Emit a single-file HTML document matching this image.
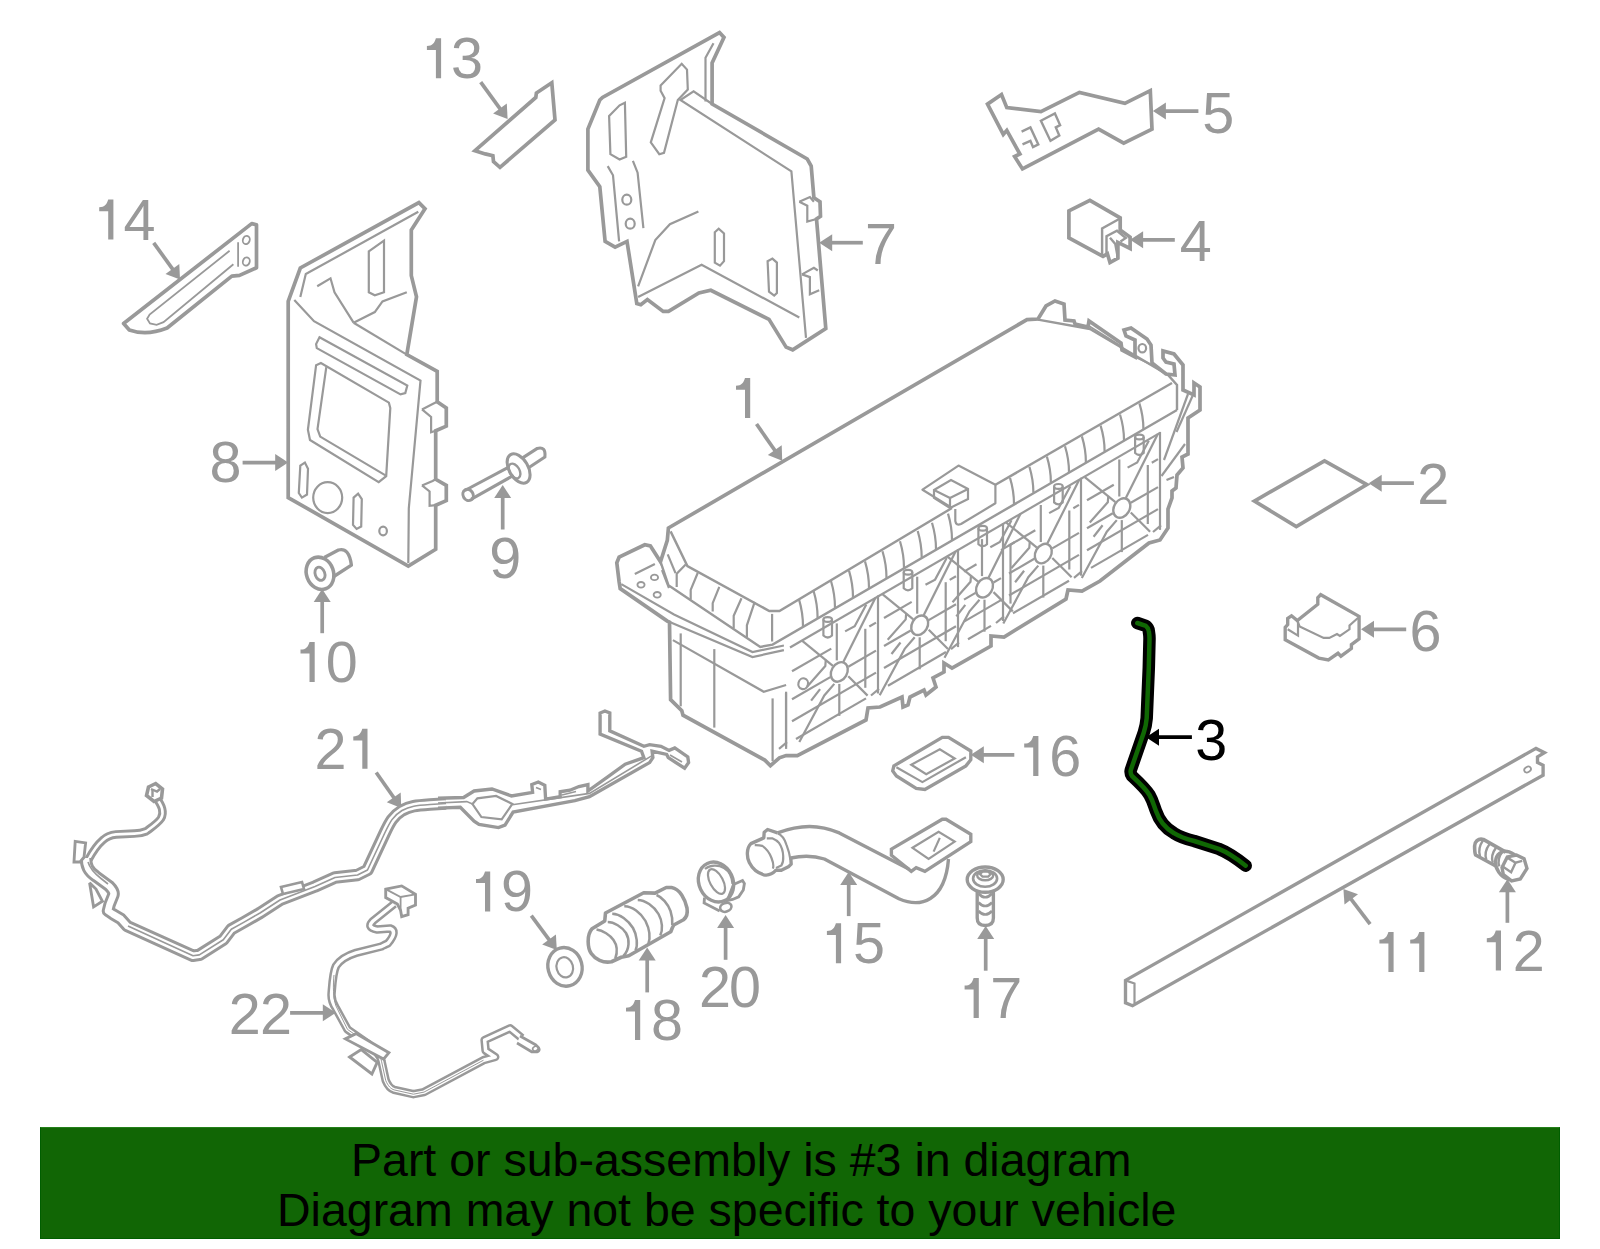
<!DOCTYPE html>
<html><head><meta charset="utf-8"><style>
html,body{margin:0;padding:0;background:#fff;}
body{width:1600px;height:1249px;position:relative;overflow:hidden;font-family:"Liberation Sans",sans-serif;}
svg{position:absolute;left:0;top:0;}
svg text{font-family:"Liberation Sans",sans-serif;}
.banner{position:absolute;left:40px;top:1127px;width:1518px;height:110px;background:#116605;border:1px solid #005e00;border-top-color:#24801a;}
.t{position:absolute;white-space:nowrap;color:#000;font-size:46.5px;line-height:46px;}
</style></head><body>
<svg width="1600" height="1249" viewBox="0 0 1600 1249">
<path d="M435.9,38.3 H441.1 V78.3 H435.9 V49.9 H426.9 V46.0 C432.4,46.0 434.7,42.8 435.9,38.3 Z" fill="#999"/>
<text x="451.1" y="78.3" fill="#999" font-size="57.5">3</text>
<path d="M108.2,199.6 H113.4 V239.6 H108.2 V211.2 H99.2 V207.3 C104.7,207.3 107.0,204.1 108.2,199.6 Z" fill="#999"/>
<text x="123.5" y="239.6" fill="#999" font-size="57.5">4</text>
<text x="865.1" y="263.9" fill="#999" font-size="57.5">7</text>
<text x="209.6" y="482.4" fill="#999" font-size="57.5">8</text>
<text x="489.3" y="578.1" fill="#999" font-size="57.5">9</text>
<path d="M309.5,641.9 H314.7 V681.9 H309.5 V653.5 H300.5 V649.6 C306.0,649.6 308.3,646.4 309.5,641.9 Z" fill="#999"/>
<text x="325.8" y="681.9" fill="#999" font-size="57.5">0</text>
<text x="1202.2" y="133.0" fill="#999" font-size="57.5">5</text>
<text x="1179.8" y="260.8" fill="#999" font-size="57.5">4</text>
<text x="1417.3" y="504.4" fill="#999" font-size="57.5">2</text>
<text x="1409.5" y="651.4" fill="#999" font-size="57.5">6</text>
<path d="M745.0,378.1 H750.2 V418.1 H745.0 V389.7 H736.0 V385.8 C741.5,385.8 743.8,382.6 745.0,378.1 Z" fill="#999"/>
<path d="M1033.2,735.9 H1038.4 V775.9 H1033.2 V747.5 H1024.2 V743.6 C1029.7,743.6 1032.0,740.4 1033.2,735.9 Z" fill="#999"/>
<text x="1049.2" y="775.9" fill="#999" font-size="57.5">6</text>
<text x="1195.2" y="760.3" fill="#000" font-size="57.5">3</text>
<text x="314.6" y="768.8" fill="#999" font-size="57.5">2</text>
<path d="M362.3,728.8 H367.5 V768.8 H362.3 V740.4 H353.3 V736.5 C358.8,736.5 361.1,733.2 362.3,728.8 Z" fill="#999"/>
<text x="228.8" y="1033.6" fill="#999" font-size="57.5">2</text>
<text x="260.1" y="1033.6" fill="#999" font-size="57.5">2</text>
<path d="M485.0,871.4 H490.2 V911.4 H485.0 V883.0 H476.0 V879.1 C481.5,879.1 483.8,875.9 485.0,871.4 Z" fill="#999"/>
<text x="500.9" y="911.4" fill="#999" font-size="57.5">9</text>
<path d="M635.0,1000.0 H640.2 V1040.0 H635.0 V1011.6 H626.0 V1007.7 C631.5,1007.7 633.8,1004.5 635.0,1000.0 Z" fill="#999"/>
<text x="651.0" y="1040.0" fill="#999" font-size="57.5">8</text>
<text x="698.9" y="1007.4" fill="#999" font-size="57.5">2</text>
<text x="729.1" y="1007.4" fill="#999" font-size="57.5">0</text>
<path d="M835.9,923.3 H841.1 V963.3 H835.9 V934.9 H826.9 V931.0 C832.4,931.0 834.7,927.8 835.9,923.3 Z" fill="#999"/>
<text x="853.1" y="963.3" fill="#999" font-size="57.5">5</text>
<path d="M973.6,977.9 H978.8 V1017.9 H973.6 V989.5 H964.6 V985.6 C970.1,985.6 972.4,982.4 973.6,977.9 Z" fill="#999"/>
<text x="990.3" y="1017.9" fill="#999" font-size="57.5">7</text>
<path d="M1388.4,932.0 H1393.6 V972.0 H1388.4 V943.6 H1379.4 V939.7 C1384.9,939.7 1387.2,936.5 1388.4,932.0 Z" fill="#999"/>
<path d="M1419.2,932.0 H1424.4 V972.0 H1419.2 V943.6 H1410.2 V939.7 C1415.7,939.7 1418.0,936.5 1419.2,932.0 Z" fill="#999"/>
<path d="M1495.8,930.6 H1501.0 V970.6 H1495.8 V942.2 H1486.8 V938.3 C1492.3,938.3 1494.6,935.1 1495.8,930.6 Z" fill="#999"/>
<text x="1512.7" y="970.6" fill="#999" font-size="57.5">2</text>
<line x1="480.7" y1="82.1" x2="500.5" y2="109.3" stroke="#999" stroke-width="3.70"/>
<polygon points="507.6,119.0 493.1,113.5 506.8,103.5" fill="#999"/>
<line x1="153.7" y1="242.8" x2="173.0" y2="269.7" stroke="#999" stroke-width="3.70"/>
<polygon points="180.0,279.5 165.5,273.9 179.3,264.0" fill="#999"/>
<line x1="862.8" y1="242.7" x2="831.2" y2="242.7" stroke="#999" stroke-width="3.70"/>
<polygon points="819.2,242.7 832.2,234.2 832.2,251.2" fill="#999"/>
<line x1="242.6" y1="462.6" x2="276.2" y2="462.6" stroke="#999" stroke-width="3.70"/>
<polygon points="288.2,462.6 275.2,471.1 275.2,454.1" fill="#999"/>
<line x1="502.7" y1="529.5" x2="502.7" y2="497.1" stroke="#999" stroke-width="3.70"/>
<polygon points="502.7,485.1 511.2,498.1 494.2,498.1" fill="#999"/>
<line x1="322.2" y1="633.2" x2="322.2" y2="600.9" stroke="#999" stroke-width="3.70"/>
<polygon points="322.2,588.9 330.7,601.9 313.7,601.9" fill="#999"/>
<line x1="1198.4" y1="111.1" x2="1164.9" y2="111.1" stroke="#999" stroke-width="3.70"/>
<polygon points="1152.9,111.1 1165.9,102.6 1165.9,119.6" fill="#999"/>
<line x1="1174.8" y1="239.8" x2="1142.1" y2="239.8" stroke="#999" stroke-width="3.70"/>
<polygon points="1130.1,239.8 1143.1,231.3 1143.1,248.3" fill="#999"/>
<line x1="1413.9" y1="483.2" x2="1380.7" y2="483.2" stroke="#999" stroke-width="3.70"/>
<polygon points="1368.7,483.2 1381.7,474.7 1381.7,491.7" fill="#999"/>
<line x1="1406.2" y1="629.3" x2="1373.0" y2="629.3" stroke="#999" stroke-width="3.70"/>
<polygon points="1361.0,629.3 1374.0,620.8 1374.0,637.8" fill="#999"/>
<line x1="756.5" y1="424.0" x2="775.3" y2="451.0" stroke="#999" stroke-width="3.70"/>
<polygon points="782.2,460.8 767.8,455.0 781.7,445.3" fill="#999"/>
<line x1="1014.3" y1="754.8" x2="982.8" y2="754.8" stroke="#999" stroke-width="3.70"/>
<polygon points="970.8,754.8 983.8,746.3 983.8,763.3" fill="#999"/>
<line x1="1191.9" y1="737.2" x2="1158.0" y2="737.2" stroke="#000" stroke-width="3.70"/>
<polygon points="1146.0,737.2 1159.0,728.7 1159.0,745.7" fill="#000"/>
<line x1="376.2" y1="772.5" x2="394.3" y2="798.2" stroke="#999" stroke-width="3.70"/>
<polygon points="401.2,808.0 386.8,802.3 400.7,792.5" fill="#999"/>
<line x1="290.1" y1="1012.8" x2="323.8" y2="1012.8" stroke="#999" stroke-width="3.70"/>
<polygon points="335.8,1012.8 322.8,1021.3 322.8,1004.3" fill="#999"/>
<line x1="531.3" y1="915.7" x2="549.6" y2="940.4" stroke="#999" stroke-width="3.70"/>
<polygon points="556.8,950.0 542.2,944.6 555.9,934.5" fill="#999"/>
<line x1="647.2" y1="992.4" x2="647.2" y2="959.5" stroke="#999" stroke-width="3.70"/>
<polygon points="647.2,947.5 655.7,960.5 638.7,960.5" fill="#999"/>
<line x1="725.6" y1="959.8" x2="725.6" y2="926.9" stroke="#999" stroke-width="3.70"/>
<polygon points="725.6,914.9 734.1,927.9 717.1,927.9" fill="#999"/>
<line x1="848.7" y1="916.1" x2="848.7" y2="883.9" stroke="#999" stroke-width="3.70"/>
<polygon points="848.7,871.9 857.2,884.9 840.2,884.9" fill="#999"/>
<line x1="985.7" y1="970.7" x2="985.7" y2="938.0" stroke="#999" stroke-width="3.70"/>
<polygon points="985.7,926.0 994.2,939.0 977.2,939.0" fill="#999"/>
<line x1="1370.1" y1="924.2" x2="1350.7" y2="898.6" stroke="#999" stroke-width="3.70"/>
<polygon points="1343.4,889.0 1358.0,894.2 1344.5,904.5" fill="#999"/>
<line x1="1507.4" y1="922.8" x2="1507.4" y2="891.2" stroke="#999" stroke-width="3.70"/>
<polygon points="1507.4,879.2 1515.9,892.2 1498.9,892.2" fill="#999"/>
<polygon points="475.0,150.7 535.8,97.5 536.4,93.0 551.8,82.8 555.0,120.0 500.0,167.3 493.5,161.6 492.9,155.8 485.2,153.9" fill="none" stroke="#999" stroke-width="3.70" stroke-linejoin="miter" stroke-miterlimit="3"/>
<path d="M123.6,323.5 L251.7,223.6 L256.5,224.8 L256.5,267.8 L239.5,275.4 L231.8,276.1 L167.1,328 Q146.6,336 129.3,329.9 Z" fill="none" stroke="#999" stroke-width="3.70" stroke-linejoin="round" stroke-linecap="butt"/>
<polyline points="229.6,250.8 149.6,314.5 147.1,318.8 150.0,323.5 156.6,324.8 163.5,322.2 233.4,264.3" fill="none" stroke="#999" stroke-width="1.80" stroke-linejoin="miter" stroke-miterlimit="3" stroke-linecap="butt"/>
<polyline points="238.1,242.3 238.1,266.8" fill="none" stroke="#999" stroke-width="1.80" stroke-linejoin="miter" stroke-miterlimit="3" stroke-linecap="butt"/>
<ellipse cx="246.3" cy="240.0" rx="3.4" ry="4.2" transform="rotate(20 246.3 240.0)" fill="none" stroke="#999" stroke-width="1.80"/>
<ellipse cx="246.3" cy="261.5" rx="3.4" ry="4.2" transform="rotate(20 246.3 261.5)" fill="none" stroke="#999" stroke-width="1.80"/>
<polygon points="719.5,32.6 724.0,37.4 712.1,63.0 712.1,104.0 807.3,159.0 811.2,166.1 813.9,197.8 820.0,201.8 820.5,216.3 816.5,219.0 825.8,328.6 792.7,349.8 786.1,347.1 769.0,319.4 710.8,290.3 698.9,293.0 668.5,311.4 663.2,311.4 647.4,299.6 640.8,304.8 636.8,303.5 627.0,241.4 615.1,247.2 605.1,241.4 599.8,186.7 587.9,170.1 587.9,129.1 599.8,100.0 602.5,97.4" fill="none" stroke="#999" stroke-width="3.70" stroke-linejoin="miter" stroke-miterlimit="3"/>
<polyline points="712.1,104.0 693.6,91.3 680.4,100.0 791.4,171.4 806.0,337.9" fill="none" stroke="#999" stroke-width="2.20" stroke-linejoin="miter" stroke-miterlimit="3" stroke-linecap="butt"/>
<polyline points="638.1,296.9 701.6,264.7 799.3,317.5" fill="none" stroke="#999" stroke-width="2.20" stroke-linejoin="miter" stroke-miterlimit="3" stroke-linecap="butt"/>
<polyline points="705.5,101.4 705.5,57.7 713.5,43.2" fill="none" stroke="#999" stroke-width="2.20" stroke-linejoin="miter" stroke-miterlimit="3" stroke-linecap="butt"/>
<polygon points="660.6,85.5 681.7,63.8 687.0,69.6 687.8,89.5 677.8,100.0 664.0,152.9 659.3,154.2 650.8,142.3 664.6,98.2 660.6,90.8" fill="none" stroke="#999" stroke-width="2.20" stroke-linejoin="miter" stroke-miterlimit="3"/>
<polygon points="609.1,115.9 619.6,105.3 624.9,102.7 626.2,156.8 619.6,159.5 610.4,154.2" fill="none" stroke="#999" stroke-width="2.20" stroke-linejoin="miter" stroke-miterlimit="3"/>
<polyline points="607.7,166.1 613.0,175.3 619.1,241.4" fill="none" stroke="#999" stroke-width="2.20" stroke-linejoin="miter" stroke-miterlimit="3" stroke-linecap="butt"/>
<polyline points="632.9,160.8 637.6,172.7 643.4,228.2" fill="none" stroke="#999" stroke-width="2.20" stroke-linejoin="miter" stroke-miterlimit="3" stroke-linecap="butt"/>
<ellipse cx="626.8" cy="199.7" rx="4.5" ry="5" transform="rotate(0 626.8 199.7)" fill="none" stroke="#999" stroke-width="2.20"/>
<ellipse cx="630.2" cy="223.7" rx="4.5" ry="5" transform="rotate(0 630.2 223.7)" fill="none" stroke="#999" stroke-width="2.20"/>
<polyline points="638.1,286.3 655.3,240.1 669.9,224.2 698.4,211.6" fill="none" stroke="#999" stroke-width="2.20" stroke-linejoin="miter" stroke-miterlimit="3" stroke-linecap="butt"/>
<polygon points="714.8,232.2 718.7,228.7 724.0,233.5 724.0,261.2 720.0,265.7 714.8,262.6" fill="none" stroke="#999" stroke-width="2.20" stroke-linejoin="miter" stroke-miterlimit="3"/>
<polygon points="767.6,261.2 772.4,258.6 776.9,262.6 776.9,293.0 774.2,295.6 769.0,291.6" fill="none" stroke="#999" stroke-width="2.20" stroke-linejoin="miter" stroke-miterlimit="3"/>
<polyline points="799.3,201.8 809.9,197.0 813.9,201.8" fill="none" stroke="#999" stroke-width="2.20" stroke-linejoin="miter" stroke-miterlimit="3" stroke-linecap="butt"/>
<polyline points="799.3,201.8 807.3,205.7 807.3,221.6 816.5,219.0" fill="none" stroke="#999" stroke-width="2.20" stroke-linejoin="miter" stroke-miterlimit="3" stroke-linecap="butt"/>
<polyline points="802.0,274.4 813.9,267.8 817.8,270.5" fill="none" stroke="#999" stroke-width="2.20" stroke-linejoin="miter" stroke-miterlimit="3" stroke-linecap="butt"/>
<polyline points="802.0,274.4 809.9,277.1 809.9,294.3 819.2,290.3" fill="none" stroke="#999" stroke-width="2.20" stroke-linejoin="miter" stroke-miterlimit="3" stroke-linecap="butt"/>
<polygon points="418.9,202.6 425.0,208.7 411.3,230.0 411.3,275.6 416.5,296.9 406.8,354.6 437.2,371.4 437.2,401.8 446.3,407.9 446.3,426.1 435.7,430.7 435.7,479.3 446.3,485.4 446.3,500.6 435.7,505.2 435.7,549.3 408.3,566.0 288.2,497.6 288.2,301.4 300.3,268.0" fill="none" stroke="#999" stroke-width="3.70" stroke-linejoin="miter" stroke-miterlimit="3"/>
<polyline points="300.3,296.9 305.8,274.1 418.3,211.7" fill="none" stroke="#999" stroke-width="2.20" stroke-linejoin="miter" stroke-miterlimit="3" stroke-linecap="butt"/>
<polyline points="294.3,299.9 314.0,321.2 420.5,380.5 408.8,508.2 408.3,563.0" fill="none" stroke="#999" stroke-width="2.20" stroke-linejoin="miter" stroke-miterlimit="3" stroke-linecap="butt"/>
<polyline points="317.2,286.2 330.5,278.3 334.5,292.3 353.6,322.7" fill="none" stroke="#999" stroke-width="2.20" stroke-linejoin="miter" stroke-miterlimit="3" stroke-linecap="butt"/>
<polyline points="353.6,322.7 374.8,312.1 382.5,301.4 406.8,292.3" fill="none" stroke="#999" stroke-width="2.20" stroke-linejoin="miter" stroke-miterlimit="3" stroke-linecap="butt"/>
<polygon points="368.8,251.3 384.0,240.6 384.0,292.3 374.8,295.3 368.8,292.3" fill="none" stroke="#999" stroke-width="2.20" stroke-linejoin="miter" stroke-miterlimit="3"/>
<polygon points="319.5,337.3 407.3,385.6 405.3,393.1 400.5,394.4 316.8,348.1 316.1,344.1" fill="none" stroke="#999" stroke-width="2.20" stroke-linejoin="miter" stroke-miterlimit="3"/>
<polygon points="316.1,365.2 320.9,363.1 388.9,402.6 390.3,408.0 386.2,476.1 378.7,482.2 310.0,440.0 307.9,429.8" fill="none" stroke="#999" stroke-width="2.20" stroke-linejoin="miter" stroke-miterlimit="3"/>
<polyline points="326.3,367.2 317.5,429.1 320.2,436.6 385.5,475.4" fill="none" stroke="#999" stroke-width="2.20" stroke-linejoin="miter" stroke-miterlimit="3" stroke-linecap="butt"/>
<polyline points="353.6,322.7 406.8,354.6" fill="none" stroke="#999" stroke-width="2.20" stroke-linejoin="miter" stroke-miterlimit="3" stroke-linecap="butt"/>
<polygon points="300.3,465.6 304.9,462.6 308.0,468.7 307.0,494.5 301.9,497.6 298.8,493.0" fill="none" stroke="#999" stroke-width="2.20" stroke-linejoin="miter" stroke-miterlimit="3"/>
<ellipse cx="327.7" cy="497.6" rx="14.5" ry="15.5" transform="rotate(0 327.7 497.6)" fill="none" stroke="#999" stroke-width="2.20"/>
<polygon points="353.6,497.6 358.1,493.6 361.8,499.1 361.2,526.5 356.6,528.9 353.0,524.9" fill="none" stroke="#999" stroke-width="2.20" stroke-linejoin="miter" stroke-miterlimit="3"/>
<ellipse cx="383.1" cy="531" rx="3.8" ry="4.3" transform="rotate(0 383.1 531)" fill="none" stroke="#999" stroke-width="2.20"/>
<polyline points="422.0,409.4 432.6,404.0 437.2,401.8" fill="none" stroke="#999" stroke-width="2.20" stroke-linejoin="miter" stroke-miterlimit="3" stroke-linecap="butt"/>
<polyline points="422.0,409.4 431.1,417.0 431.1,432.2 435.7,430.7" fill="none" stroke="#999" stroke-width="2.20" stroke-linejoin="miter" stroke-miterlimit="3" stroke-linecap="butt"/>
<polyline points="422.0,485.4 432.6,481.0 435.7,479.3" fill="none" stroke="#999" stroke-width="2.20" stroke-linejoin="miter" stroke-miterlimit="3" stroke-linecap="butt"/>
<polyline points="422.0,485.4 429.6,491.5 429.6,505.8 435.7,505.2" fill="none" stroke="#999" stroke-width="2.20" stroke-linejoin="miter" stroke-miterlimit="3" stroke-linecap="butt"/>
<polyline points="464.9,490.5 509.2,466.8" fill="none" stroke="#999" stroke-width="3.08" stroke-linejoin="miter" stroke-miterlimit="3" stroke-linecap="butt"/>
<polyline points="471.4,499.2 513.5,475.4" fill="none" stroke="#999" stroke-width="3.08" stroke-linejoin="miter" stroke-miterlimit="3" stroke-linecap="butt"/>
<ellipse cx="468.1" cy="494.9" rx="5.0" ry="5.8" transform="rotate(-30 468.1 494.9)" fill="none" stroke="#999" stroke-width="3.08"/>
<ellipse cx="518.6" cy="468.5" rx="9.5" ry="16.0" transform="rotate(-30 518.6 468.5)" fill="none" stroke="#999" stroke-width="3.08"/>
<ellipse cx="514.5" cy="471.0" rx="5.0" ry="8.0" transform="rotate(-30 514.5 471.0)" fill="none" stroke="#999" stroke-width="2.42"/>
<path d="M522.2,458.1 L537.3,448.4 Q546,446 544.9,457 L528.6,467.8" fill="none" stroke="#999" stroke-width="3.08" stroke-linejoin="round" stroke-linecap="butt"/>
<ellipse cx="320.0" cy="573.3" rx="13.5" ry="16.5" transform="rotate(-20 320.0 573.3)" fill="none" stroke="#999" stroke-width="3.58"/>
<ellipse cx="320.0" cy="573.8" rx="4.8" ry="6.8" transform="rotate(-20 320.0 573.8)" fill="none" stroke="#999" stroke-width="2.86"/>
<path d="M324.3,557.6 L338.4,550 Q349,547 351.4,565.1 L333,577" fill="none" stroke="#999" stroke-width="3.36" stroke-linejoin="round" stroke-linecap="butt"/>
<polygon points="987.5,104.1 1001.5,94.5 1006.8,107.6 1040.9,111.7 1079.4,92.4 1124.9,103.3 1150.3,90.7 1152.0,129.2 1123.7,143.2 1098.6,129.2 1022.5,168.9 1014.6,156.6 1019.9,154.0 1006.8,130.4 1003.3,134.4" fill="none" stroke="#999" stroke-width="3.70" stroke-linejoin="miter" stroke-miterlimit="3"/>
<polygon points="1040.9,120.8 1054.9,113.4 1060.1,125.1 1055.8,127.4 1059.3,135.6 1050.5,140.9" fill="none" stroke="#999" stroke-width="2.42" stroke-linejoin="miter" stroke-miterlimit="3"/>
<polyline points="1021.6,131.6 1030.4,127.4 1038.3,144.4 1033.0,147.0 1030.4,140.9 1022.5,144.4" fill="none" stroke="#999" stroke-width="2.42" stroke-linejoin="miter" stroke-miterlimit="3" stroke-linecap="butt"/>
<polygon points="1068.9,210.9 1089.9,200.4 1120.2,217.9 1120.2,230.1 1130.1,237.1 1130.1,248.5 1117.9,242.4 1117.9,258.1 1110.0,262.5 1107.4,253.8 1103.0,256.4 1068.9,238.0" fill="none" stroke="#999" stroke-width="3.70" stroke-linejoin="miter" stroke-miterlimit="3"/>
<polyline points="1119.6,218.8 1102.1,228.4 1102.1,255.5" fill="none" stroke="#999" stroke-width="2.42" stroke-linejoin="miter" stroke-miterlimit="3" stroke-linecap="butt"/>
<polyline points="1106.5,253.8 1106.5,236.3 1117.0,230.7 1125.8,238.0 1120.5,241.5" fill="none" stroke="#999" stroke-width="2.42" stroke-linejoin="miter" stroke-miterlimit="3" stroke-linecap="butt"/>
<polyline points="1110.0,237.7 1115.3,244.1 1117.9,258.1" fill="none" stroke="#999" stroke-width="2.42" stroke-linejoin="miter" stroke-miterlimit="3" stroke-linecap="butt"/>
<polygon points="1254.4,501.1 1324.5,460.8 1366.8,484.6 1296.3,526.5" fill="none" stroke="#999" stroke-width="3.70" stroke-linejoin="miter" stroke-miterlimit="3"/>
<polygon points="1285.2,639.8 1285.2,627.3 1287.7,624.5 1287.7,618.3 1291.5,615.8 1297.3,620.6 1317.8,604.3 1317.8,597.6 1320.7,594.7 1359.1,616.4 1359.1,638.9 1351.4,644.6 1351.4,648.5 1340.9,656.2 1338.0,653.3 1328.4,660.0 1318.8,658.1" fill="none" stroke="#999" stroke-width="3.36" stroke-linejoin="miter" stroke-miterlimit="3"/>
<polyline points="1297.3,620.6 1299.6,626.4 1323.6,637.9 1329.3,637.9 1337.0,634.1 1339.9,636.0 1349.5,629.3 1349.5,625.4 1358.2,617.7" fill="none" stroke="#999" stroke-width="2.20" stroke-linejoin="miter" stroke-miterlimit="3" stroke-linecap="butt"/>
<polyline points="1287.7,629.3 1298.0,635.6 1298.0,621.6" fill="none" stroke="#999" stroke-width="2.20" stroke-linejoin="miter" stroke-miterlimit="3" stroke-linecap="butt"/>
<polygon points="893.9,765.9 942.3,737.4 948.5,737.4 970.8,751.0 970.8,759.7 965.9,765.9 924.9,789.5 916.2,788.3 896.4,775.9 892.7,770.9" fill="none" stroke="#999" stroke-width="3.36" stroke-linejoin="miter" stroke-miterlimit="3"/>
<polyline points="896.4,767.2 922.4,782.1 965.9,757.2" fill="none" stroke="#999" stroke-width="2.20" stroke-linejoin="miter" stroke-miterlimit="3" stroke-linecap="butt"/>
<polygon points="911.3,764.7 939.8,749.3 954.7,758.5 926.2,774.1" fill="none" stroke="#999" stroke-width="2.20" stroke-linejoin="miter" stroke-miterlimit="3"/>
<path d="M777.5,832.9 C788,829 800,826.5 809.5,826.5 C820,826.5 830,829 839.3,832.9 L908.8,868.9" fill="none" stroke="#999" stroke-width="3.36" stroke-linejoin="round" stroke-linecap="butt"/>
<path d="M790.8,858 C800,856 812,855 824.4,859 L898.9,898.7 C920,908 945,902 948.5,859" fill="none" stroke="#999" stroke-width="3.36" stroke-linejoin="round" stroke-linecap="butt"/>
<polygon points="891.4,849.1 942.3,819.3 946.0,819.3 970.8,834.2 970.8,841.6 924.9,871.4 916.2,867.7 911.3,871.4 891.4,855.3" fill="none" stroke="#999" stroke-width="3.36" stroke-linejoin="miter" stroke-miterlimit="3"/>
<polygon points="912.5,847.8 938.6,831.7 954.7,841.6 928.6,859.0" fill="none" stroke="#999" stroke-width="2.20" stroke-linejoin="miter" stroke-miterlimit="3"/>
<polyline points="939.8,837.9 933.6,851.6" fill="none" stroke="#999" stroke-width="2.20" stroke-linejoin="miter" stroke-miterlimit="3" stroke-linecap="butt"/>
<path d="M777.5,832.9 L767.6,829.5 L764.2,832.2 L763.8,837.9 L750.9,843.6 C746.5,848 746.5,857 749.3,862.6 C752,868 757,873 763.8,874.8 C767,875.5 772,874.5 776,870.2 L781.3,870.2 L788.9,866.4 L791.2,864.1 L790.8,858" fill="none" stroke="#999" stroke-width="3.36" stroke-linejoin="round" stroke-linecap="butt"/>
<path d="M754.7,845.1 C758,845 761,845.5 762.3,845.9 C767,849 770,854 771.5,858 C773.5,863 773.8,866 772.9,868.7" fill="none" stroke="#999" stroke-width="2.20" stroke-linejoin="round" stroke-linecap="butt"/>
<path d="M766.8,838.3 L772.2,838.3 C776,840 778,841.5 779,842.8 C782,847 783,851 783.2,856 C783.5,860 783,863 781.3,865.6 L776,867.9" fill="none" stroke="#999" stroke-width="2.20" stroke-linejoin="round" stroke-linecap="butt"/>
<path d="M777.5,833.3 C782,835 785,840 786.6,845.1 C788.5,850 789.7,854 790.4,859.6" fill="none" stroke="#999" stroke-width="2.20" stroke-linejoin="round" stroke-linecap="butt"/>
<path d="M977.2,890 V918 Q977.2,925.5 985.2,925.5 Q993.4,925.5 993.4,918 V890" fill="none" stroke="#999" stroke-width="3.36" stroke-linejoin="round" stroke-linecap="butt"/>
<path d="M978.5,893.5 Q985.2,901 992,893.5" fill="none" stroke="#999" stroke-width="2.64" stroke-linejoin="round" stroke-linecap="butt"/>
<path d="M978.5,902.5 Q985.2,909.5 992,902.5" fill="none" stroke="#999" stroke-width="2.64" stroke-linejoin="round" stroke-linecap="butt"/>
<path d="M978.5,911 Q985.2,918 992,911" fill="none" stroke="#999" stroke-width="2.64" stroke-linejoin="round" stroke-linecap="butt"/>
<ellipse cx="985.2" cy="879.6" rx="18.0" ry="12.6" transform="rotate(0 985.2 879.6)" fill="#fff" stroke="#999" stroke-width="3.36"/>
<ellipse cx="985.1" cy="878.5" rx="12" ry="8.3" transform="rotate(0 985.1 878.5)" fill="none" stroke="#999" stroke-width="2.64"/>
<ellipse cx="985.2" cy="875.5" rx="8" ry="4.8" transform="rotate(0 985.2 875.5)" fill="none" stroke="#999" stroke-width="2.42"/>
<polygon points="979.9,874.1 982.5,871.6 988.2,871.6 990.8,874.1 988.2,876.6 982.5,876.6" fill="none" stroke="#999" stroke-width="2.20" stroke-linejoin="miter" stroke-miterlimit="3"/>
<path d="M592,928.75 L604.75,920.9 L605.5,913 L643.75,892.75 L655,893.1 L666.25,887.5 L671.5,887.5 C680,889 685,899 687,908 C688,914 687,917 683.5,919.75 L673.75,925 L672.25,928 L670.75,931.75 L628.75,955.75 L621.25,957.25 L611.5,961.75 C603,963.5 595,959 591.25,953.5 C587.5,948 586.5,935 592,928.75 Z" fill="none" stroke="#999" stroke-width="3.58" stroke-linejoin="round" stroke-linecap="butt"/>
<path d="M596.5,929.5 C603,930.5 610,935 613.5,940 C617,945 618,951 615.25,958.75" fill="none" stroke="#999" stroke-width="2.53" stroke-linejoin="round" stroke-linecap="butt"/>
<path d="M607.75,922 C614,922 622,927 626,933 C629.5,939 630,949 623.5,955.75" fill="none" stroke="#999" stroke-width="2.53" stroke-linejoin="round" stroke-linecap="butt"/>
<path d="M612.25,913.75 C620,914 628,920 633,928 C637,935 638,945 635.5,950.5" fill="none" stroke="#999" stroke-width="2.53" stroke-linejoin="round" stroke-linecap="butt"/>
<path d="M624.25,906.25 C632,906 641,913 645.5,921 C649.5,929 650.5,938 648.25,944.5" fill="none" stroke="#999" stroke-width="2.53" stroke-linejoin="round" stroke-linecap="butt"/>
<path d="M637.75,899.9 C645,900 654,906 658.5,914 C662.5,921 663,930 660.25,935.5" fill="none" stroke="#999" stroke-width="2.53" stroke-linejoin="round" stroke-linecap="butt"/>
<path d="M656.5,895 C662,897 668,904 670.5,911 C672.5,917 672.6,921 672.25,925" fill="none" stroke="#999" stroke-width="2.53" stroke-linejoin="round" stroke-linecap="butt"/>
<ellipse cx="565.0" cy="966.9" rx="17.0" ry="19.5" transform="rotate(-15 565.0 966.9)" fill="none" stroke="#999" stroke-width="3.36"/>
<ellipse cx="564.8" cy="967.3" rx="8.2" ry="10.2" transform="rotate(-15 564.8 967.3)" fill="none" stroke="#999" stroke-width="2.20"/>
<ellipse cx="716.0" cy="882.0" rx="17.0" ry="20.5" transform="rotate(-25 716.0 882.0)" fill="none" stroke="#999" stroke-width="3.36"/>
<ellipse cx="716.5" cy="881.5" rx="6.5" ry="13.5" transform="rotate(-28 716.5 881.5)" fill="none" stroke="#999" stroke-width="2.20"/>
<path d="M705,869 C710,865 718,864.5 724,868 C729,871 732,877 732.5,884" fill="none" stroke="#999" stroke-width="2.20" stroke-linejoin="round" stroke-linecap="butt"/>
<polygon points="733.5,884.5 742.5,880.5 744.4,883.5 743.3,890.0 738.7,896.8 732.6,899.5 727.3,900.6" fill="none" stroke="#999" stroke-width="2.86" stroke-linejoin="miter" stroke-miterlimit="3"/>
<polyline points="704.5,897.6 704.1,902.9 719.7,910.9" fill="none" stroke="#999" stroke-width="2.86" stroke-linejoin="miter" stroke-miterlimit="3" stroke-linecap="butt"/>
<ellipse cx="725.8" cy="907.3" rx="5.8" ry="4.3" transform="rotate(-20 725.8 907.3)" fill="none" stroke="#999" stroke-width="2.64"/>
<path d="M1137.3,623 L1145.9,625.9 Q1148.5,628 1148.8,631 Q1149.6,636 1149.5,639 L1148.8,667.6 L1146.7,718.1 Q1146,726 1143.8,732.5 L1130.8,770 Q1130,773 1132,776 Q1146,789 1149.5,795 C1153,801 1154,806 1156,811 C1159,820 1165,828 1174,833.2 C1180,837 1188,839.5 1194.2,841 L1218.8,848.9 C1228,852.5 1236,858 1245.7,865.7" fill="none" stroke="#000" stroke-width="12.50" stroke-linejoin="round" stroke-linecap="round"/>
<path d="M1137.3,623 L1145.9,625.9 Q1148.5,628 1148.8,631 Q1149.6,636 1149.5,639 L1148.8,667.6 L1146.7,718.1 Q1146,726 1143.8,732.5 L1130.8,770 Q1130,773 1132,776 Q1146,789 1149.5,795 C1153,801 1154,806 1156,811 C1159,820 1165,828 1174,833.2 C1180,837 1188,839.5 1194.2,841 L1218.8,848.9 C1228,852.5 1236,858 1245.7,865.7" fill="none" stroke="#106804" stroke-width="4.50" stroke-linejoin="round" stroke-linecap="round"/>
<polygon points="1125.5,980.4 1536.0,748.4 1544.5,752.7 1537.5,756.9 1537.5,762.5 1543.1,765.3 1543.1,775.2 1132.5,1005.7 1125.5,1002.9" fill="none" stroke="#999" stroke-width="3.36" stroke-linejoin="miter" stroke-miterlimit="3"/>
<polyline points="1125.5,980.4 1134.5,983.5 1134.5,1003.0" fill="none" stroke="#999" stroke-width="2.20" stroke-linejoin="miter" stroke-miterlimit="3" stroke-linecap="butt"/>
<polyline points="1134.5,983.5 1543.1,752.0" fill="none" stroke="#999" stroke-width="0.01" stroke-linejoin="miter" stroke-miterlimit="3" stroke-linecap="butt"/>
<ellipse cx="1527.6" cy="769.5" rx="3.5" ry="2.7" transform="rotate(-30 1527.6 769.5)" fill="none" stroke="#999" stroke-width="1.80"/>
<path d="M1505.8,852.1 L1483.3,839.4 C1478,838 1474.6,842 1474.6,846 C1474.6,851 1474.6,853 1475.6,855 L1496.7,866.5" fill="none" stroke="#999" stroke-width="3.58" stroke-linejoin="round" stroke-linecap="butt"/>
<path d="M1483.0,840.4 Q1477.5,848.4 1480.0,856.3" fill="none" stroke="#999" stroke-width="2.42" stroke-linejoin="round" stroke-linecap="butt"/>
<path d="M1489.5,844.1 Q1483.8,851.8 1486.3,859.6" fill="none" stroke="#999" stroke-width="2.42" stroke-linejoin="round" stroke-linecap="butt"/>
<path d="M1496.0,847.8 Q1490.3,855.4 1492.8,862.9" fill="none" stroke="#999" stroke-width="2.42" stroke-linejoin="round" stroke-linecap="butt"/>
<path d="M1502.5,851.4 Q1496.8,858.9 1499.3,866.3" fill="none" stroke="#999" stroke-width="2.42" stroke-linejoin="round" stroke-linecap="butt"/>
<ellipse cx="1508.5" cy="865.5" rx="11.8" ry="15.2" transform="rotate(-35 1508.5 865.5)" fill="none" stroke="#999" stroke-width="3.36"/>
<polygon points="1502.0,867.5 1507.3,856.9 1516.4,855.0 1524.1,858.8 1527.0,868.4 1520.3,879.0 1511.6,880.9 1503.4,874.7" fill="#fff" stroke="#999" stroke-width="3.36" stroke-linejoin="miter" stroke-miterlimit="3"/>
<polyline points="1507.8,857.9 1515.5,862.7 1522.2,860.8" fill="none" stroke="#999" stroke-width="2.42" stroke-linejoin="miter" stroke-miterlimit="3" stroke-linecap="butt"/>
<polyline points="1515.5,862.7 1511.1,872.3 1503.4,867.0" fill="none" stroke="#999" stroke-width="2.42" stroke-linejoin="miter" stroke-miterlimit="3" stroke-linecap="butt"/>
<polygon points="668.4,528.0 1027.0,319.6 1038.0,319.0 1046.0,306.0 1055.0,301.0 1064.0,304.0 1065.0,320.0 1074.0,321.0 1075.0,324.0 1088.0,327.0 1089.0,321.0 1121.0,343.0 1122.0,350.0 1135.0,357.0 1135.0,340.0 1126.0,336.0 1124.0,330.0 1131.0,328.0 1147.0,339.0 1151.0,345.0 1152.0,363.0 1166.0,374.0 1175.0,375.0 1174.0,364.0 1166.0,362.0 1163.0,358.0 1163.0,351.0 1174.0,354.0 1183.0,365.0 1183.0,390.0 1194.0,395.0 1194.0,383.0 1200.0,387.0 1200.0,410.0 1188.0,418.0 1188.0,454.0 1182.0,457.0 1183.0,468.0 1177.0,475.0 1176.0,488.0 1172.0,491.0 1172.0,498.0 1168.0,509.0 1168.0,528.0 1160.0,540.0 1149.0,543.0 1100.0,581.0 1082.0,591.0 1068.0,590.0 1066.0,599.0 1004.0,637.0 991.0,636.0 991.0,646.0 952.0,668.0 944.0,663.0 944.0,672.0 933.0,678.0 936.0,687.0 926.0,695.0 924.0,690.0 910.0,697.0 908.0,705.0 903.0,707.0 902.0,697.0 880.0,707.0 868.0,708.0 866.0,720.0 797.3,755.6 786.1,755.6 779.4,757.8 770.4,765.7 764.8,760.1 683.0,715.2 681.8,710.8 670.6,699.6 669.5,622.2 667.3,621.1 620.2,588.6 619.1,581.8 616.8,562.8 619.1,557.2 644.8,544.8 650.4,546.0 660.5,561.7 667.3,540.4" fill="none" stroke="#999" stroke-width="3.70" stroke-linejoin="miter" stroke-miterlimit="3"/>
<polyline points="1038.0,319.6 1090.0,329.0 1168.0,375.0 1177.0,385.0 1177.0,410.0" fill="none" stroke="#999" stroke-width="2.42" stroke-linejoin="miter" stroke-miterlimit="3" stroke-linecap="butt"/>
<polyline points="1089.0,326.0 1121.0,346.0" fill="none" stroke="#999" stroke-width="1.80" stroke-linejoin="miter" stroke-miterlimit="3" stroke-linecap="butt"/>
<polyline points="1135.0,357.0 1150.0,364.0" fill="none" stroke="#999" stroke-width="1.80" stroke-linejoin="miter" stroke-miterlimit="3" stroke-linecap="butt"/>
<polyline points="1172.0,383.0 995.0,485.0" fill="none" stroke="#999" stroke-width="2.42" stroke-linejoin="miter" stroke-miterlimit="3" stroke-linecap="butt"/>
<polyline points="952.0,508.0 779.4,611.0 769.3,611.0 687.4,566.1 670.6,531.4" fill="none" stroke="#999" stroke-width="2.42" stroke-linejoin="miter" stroke-miterlimit="3" stroke-linecap="butt"/>
<path d="M952.1,508 L922.5,489.7 L958.5,465.6 L995.4,484.8 L995.4,503.3 L961,524 Q956,526 955.3,521 L955.3,508.9" fill="none" stroke="#999" stroke-width="2.20" stroke-linejoin="round" stroke-linecap="butt"/>
<polygon points="934.0,490.0 951.0,480.0 968.0,489.0 968.0,499.0 950.0,508.0 934.0,498.0" fill="none" stroke="#999" stroke-width="2.20" stroke-linejoin="miter" stroke-miterlimit="3"/>
<polyline points="934.0,490.0 950.0,498.0 968.0,489.0" fill="none" stroke="#999" stroke-width="2.20" stroke-linejoin="miter" stroke-miterlimit="3" stroke-linecap="butt"/>
<polyline points="950.0,498.0 950.0,508.0" fill="none" stroke="#999" stroke-width="2.20" stroke-linejoin="miter" stroke-miterlimit="3" stroke-linecap="butt"/>
<polyline points="1177.0,410.0 772.6,644.6 760.3,646.9 668.4,585.2 660.5,561.7" fill="none" stroke="#999" stroke-width="2.42" stroke-linejoin="miter" stroke-miterlimit="3" stroke-linecap="butt"/>
<path d="M799.0,599.4 Q803.0,612.9 803.0,626.5" fill="none" stroke="#999" stroke-width="2.20" stroke-linejoin="round" stroke-linecap="butt"/>
<path d="M813.6,591.0 Q817.6,604.5 817.6,618.0" fill="none" stroke="#999" stroke-width="2.20" stroke-linejoin="round" stroke-linecap="butt"/>
<path d="M831.0,581.0 Q835.0,594.4 835.0,607.9" fill="none" stroke="#999" stroke-width="2.20" stroke-linejoin="round" stroke-linecap="butt"/>
<path d="M849.0,570.6 Q853.0,584.0 853.0,597.5" fill="none" stroke="#999" stroke-width="2.20" stroke-linejoin="round" stroke-linecap="butt"/>
<path d="M865.0,561.4 Q869.0,574.8 869.0,588.2" fill="none" stroke="#999" stroke-width="2.20" stroke-linejoin="round" stroke-linecap="butt"/>
<path d="M882.5,551.3 Q886.5,564.7 886.5,578.0" fill="none" stroke="#999" stroke-width="2.20" stroke-linejoin="round" stroke-linecap="butt"/>
<path d="M900.0,541.2 Q904.0,554.6 904.0,567.9" fill="none" stroke="#999" stroke-width="2.20" stroke-linejoin="round" stroke-linecap="butt"/>
<path d="M917.7,531.0 Q921.7,544.3 921.7,557.6" fill="none" stroke="#999" stroke-width="2.20" stroke-linejoin="round" stroke-linecap="butt"/>
<path d="M932.0,522.8 Q936.0,536.1 936.0,549.3" fill="none" stroke="#999" stroke-width="2.20" stroke-linejoin="round" stroke-linecap="butt"/>
<path d="M948.0,513.6 Q952.0,526.8 952.0,540.0" fill="none" stroke="#999" stroke-width="2.20" stroke-linejoin="round" stroke-linecap="butt"/>
<path d="M1010.0,477.9 Q1014.0,491.0 1014.0,504.1" fill="none" stroke="#999" stroke-width="2.20" stroke-linejoin="round" stroke-linecap="butt"/>
<path d="M1029.4,466.7 Q1033.4,479.8 1033.4,492.8" fill="none" stroke="#999" stroke-width="2.20" stroke-linejoin="round" stroke-linecap="butt"/>
<path d="M1046.9,456.6 Q1050.9,469.6 1050.9,482.7" fill="none" stroke="#999" stroke-width="2.20" stroke-linejoin="round" stroke-linecap="butt"/>
<path d="M1065.0,446.2 Q1069.0,459.2 1069.0,472.2" fill="none" stroke="#999" stroke-width="2.20" stroke-linejoin="round" stroke-linecap="butt"/>
<path d="M1081.9,436.4 Q1085.9,449.4 1085.9,462.4" fill="none" stroke="#999" stroke-width="2.20" stroke-linejoin="round" stroke-linecap="butt"/>
<path d="M1100.6,425.7 Q1104.6,438.6 1104.6,451.5" fill="none" stroke="#999" stroke-width="2.20" stroke-linejoin="round" stroke-linecap="butt"/>
<path d="M1120.0,414.5 Q1124.0,427.4 1124.0,440.3" fill="none" stroke="#999" stroke-width="2.20" stroke-linejoin="round" stroke-linecap="butt"/>
<path d="M1139.4,403.3 Q1143.4,416.2 1143.4,429.0" fill="none" stroke="#999" stroke-width="2.20" stroke-linejoin="round" stroke-linecap="butt"/>
<polyline points="697.7,573.0 690.7,589.9 690.7,599.5" fill="none" stroke="#999" stroke-width="2.20" stroke-linejoin="miter" stroke-miterlimit="3" stroke-linecap="butt"/>
<polyline points="719.3,586.9 712.7,603.1 712.7,611.5" fill="none" stroke="#999" stroke-width="2.20" stroke-linejoin="miter" stroke-miterlimit="3" stroke-linecap="butt"/>
<polyline points="741.5,598.3 733.7,615.7 733.7,628.3" fill="none" stroke="#999" stroke-width="2.20" stroke-linejoin="miter" stroke-miterlimit="3" stroke-linecap="butt"/>
<polyline points="754.7,601.9 746.9,625.3 746.9,637.3" fill="none" stroke="#999" stroke-width="2.20" stroke-linejoin="miter" stroke-miterlimit="3" stroke-linecap="butt"/>
<polyline points="772.1,613.9 772.1,641.5" fill="none" stroke="#999" stroke-width="2.20" stroke-linejoin="miter" stroke-miterlimit="3" stroke-linecap="butt"/>
<polyline points="667.7,554.4 675.5,573.1" fill="none" stroke="#999" stroke-width="2.20" stroke-linejoin="miter" stroke-miterlimit="3" stroke-linecap="butt"/>
<polyline points="685.7,564.6 676.7,573.7 676.7,586.9" fill="none" stroke="#999" stroke-width="2.20" stroke-linejoin="miter" stroke-miterlimit="3" stroke-linecap="butt"/>
<ellipse cx="1142.3" cy="348.2" rx="3.8" ry="4.2" transform="rotate(0 1142.3 348.2)" fill="none" stroke="#999" stroke-width="2.20"/>
<polyline points="621.3,584.1 674.0,614.5 752.5,652.0 783.9,645.5" fill="none" stroke="#999" stroke-width="2.20" stroke-linejoin="miter" stroke-miterlimit="3" stroke-linecap="butt"/>
<polyline points="667.3,621.1 752.5,657.0 783.9,650.2" fill="none" stroke="#999" stroke-width="2.20" stroke-linejoin="miter" stroke-miterlimit="3" stroke-linecap="butt"/>
<polyline points="634.8,574.0 654.9,563.9" fill="none" stroke="#999" stroke-width="2.20" stroke-linejoin="miter" stroke-miterlimit="3" stroke-linecap="butt"/>
<ellipse cx="641" cy="584.8" rx="3.6" ry="2.8" transform="rotate(0 641 584.8)" fill="none" stroke="#999" stroke-width="1.80"/>
<ellipse cx="654.5" cy="577.4" rx="3.6" ry="2.8" transform="rotate(0 654.5 577.4)" fill="none" stroke="#999" stroke-width="1.80"/>
<ellipse cx="657.2" cy="594.8" rx="3.6" ry="2.8" transform="rotate(0 657.2 594.8)" fill="none" stroke="#999" stroke-width="1.80"/>
<polyline points="662.0,570.0 669.0,588.0" fill="none" stroke="#999" stroke-width="2.20" stroke-linejoin="miter" stroke-miterlimit="3" stroke-linecap="butt"/>
<polyline points="672.9,640.1 763.7,691.7 786.1,685.0" fill="none" stroke="#999" stroke-width="2.20" stroke-linejoin="miter" stroke-miterlimit="3" stroke-linecap="butt"/>
<polyline points="680.7,633.4 680.7,706.3" fill="none" stroke="#999" stroke-width="2.20" stroke-linejoin="miter" stroke-miterlimit="3" stroke-linecap="butt"/>
<polyline points="714.3,649.1 714.3,727.6" fill="none" stroke="#999" stroke-width="2.20" stroke-linejoin="miter" stroke-miterlimit="3" stroke-linecap="butt"/>
<polyline points="772.6,698.4 772.6,761.2" fill="none" stroke="#999" stroke-width="2.20" stroke-linejoin="miter" stroke-miterlimit="3" stroke-linecap="butt"/>
<polyline points="786.1,691.7 786.1,748.9" fill="none" stroke="#999" stroke-width="2.20" stroke-linejoin="miter" stroke-miterlimit="3" stroke-linecap="butt"/>
<polyline points="790.0,647.5 1160.0,432.9" fill="none" stroke="#999" stroke-width="2.20" stroke-linejoin="miter" stroke-miterlimit="3" stroke-linecap="butt"/>
<polyline points="792.0,671.3 831.3,648.6" fill="none" stroke="#999" stroke-width="2.20" stroke-linejoin="miter" stroke-miterlimit="3" stroke-linecap="butt"/>
<polyline points="869.3,626.5 876.0,622.6" fill="none" stroke="#999" stroke-width="2.20" stroke-linejoin="miter" stroke-miterlimit="3" stroke-linecap="butt"/>
<polyline points="792.0,699.3 830.3,677.1" fill="none" stroke="#999" stroke-width="2.20" stroke-linejoin="miter" stroke-miterlimit="3" stroke-linecap="butt"/>
<polyline points="848.3,666.7 876.0,650.6" fill="none" stroke="#999" stroke-width="2.20" stroke-linejoin="miter" stroke-miterlimit="3" stroke-linecap="butt"/>
<polyline points="792.0,721.3 876.0,672.6" fill="none" stroke="#999" stroke-width="2.20" stroke-linejoin="miter" stroke-miterlimit="3" stroke-linecap="butt"/>
<polyline points="796.0,739.0 866.0,698.4" fill="none" stroke="#999" stroke-width="2.20" stroke-linejoin="miter" stroke-miterlimit="3" stroke-linecap="butt"/>
<ellipse cx="839.3" cy="671.9140000000001" rx="7.8" ry="10.3" transform="rotate(30 839.3 671.9140000000001)" fill="none" stroke="#999" stroke-width="2.42"/>
<polyline points="843.3,661.9 875.3,597.9" fill="none" stroke="#999" stroke-width="2.20" stroke-linejoin="miter" stroke-miterlimit="3" stroke-linecap="butt"/>
<polyline points="832.9,665.9 802.3,640.9" fill="none" stroke="#999" stroke-width="2.20" stroke-linejoin="miter" stroke-miterlimit="3" stroke-linecap="butt"/>
<polyline points="848.3,676.3 867.6,695.6" fill="none" stroke="#999" stroke-width="2.20" stroke-linejoin="miter" stroke-miterlimit="3" stroke-linecap="butt"/>
<polyline points="834.3,683.9 824.3,695.5 799.3,741.9" fill="none" stroke="#999" stroke-width="2.20" stroke-linejoin="miter" stroke-miterlimit="3" stroke-linecap="butt"/>
<polyline points="845.1,631.4 854.7,626.2 866.3,604.5" fill="none" stroke="#999" stroke-width="2.20" stroke-linejoin="miter" stroke-miterlimit="3" stroke-linecap="butt"/>
<polyline points="811.1,700.6 820.1,689.1" fill="none" stroke="#999" stroke-width="2.20" stroke-linejoin="miter" stroke-miterlimit="3" stroke-linecap="butt"/>
<polyline points="836.8,623.4 836.8,660.4" fill="none" stroke="#999" stroke-width="2.20" stroke-linejoin="miter" stroke-miterlimit="3" stroke-linecap="butt"/>
<polyline points="839.3,683.9 839.3,715.9" fill="none" stroke="#999" stroke-width="2.20" stroke-linejoin="miter" stroke-miterlimit="3" stroke-linecap="butt"/>
<polyline points="865.3,628.8 865.3,687.8" fill="none" stroke="#999" stroke-width="2.20" stroke-linejoin="miter" stroke-miterlimit="3" stroke-linecap="butt"/>
<polyline points="807.3,686.5 825.3,666.0 825.8,659.7" fill="none" stroke="#999" stroke-width="2.20" stroke-linejoin="miter" stroke-miterlimit="3" stroke-linecap="butt"/>
<polyline points="884.0,618.0 911.7,601.9" fill="none" stroke="#999" stroke-width="2.20" stroke-linejoin="miter" stroke-miterlimit="3" stroke-linecap="butt"/>
<polyline points="949.7,579.9 956.0,576.2" fill="none" stroke="#999" stroke-width="2.20" stroke-linejoin="miter" stroke-miterlimit="3" stroke-linecap="butt"/>
<polyline points="884.0,646.0 910.7,630.5" fill="none" stroke="#999" stroke-width="2.20" stroke-linejoin="miter" stroke-miterlimit="3" stroke-linecap="butt"/>
<polyline points="928.7,620.1 956.0,604.2" fill="none" stroke="#999" stroke-width="2.20" stroke-linejoin="miter" stroke-miterlimit="3" stroke-linecap="butt"/>
<polyline points="884.0,668.0 956.0,626.2" fill="none" stroke="#999" stroke-width="2.20" stroke-linejoin="miter" stroke-miterlimit="3" stroke-linecap="butt"/>
<polyline points="888.0,685.7 946.0,652.0" fill="none" stroke="#999" stroke-width="2.20" stroke-linejoin="miter" stroke-miterlimit="3" stroke-linecap="butt"/>
<ellipse cx="919.7" cy="625.282" rx="7.8" ry="10.3" transform="rotate(30 919.7 625.282)" fill="none" stroke="#999" stroke-width="2.42"/>
<polyline points="923.7,615.3 955.7,551.3" fill="none" stroke="#999" stroke-width="2.20" stroke-linejoin="miter" stroke-miterlimit="3" stroke-linecap="butt"/>
<polyline points="913.3,619.3 882.7,594.3" fill="none" stroke="#999" stroke-width="2.20" stroke-linejoin="miter" stroke-miterlimit="3" stroke-linecap="butt"/>
<polyline points="928.7,629.7 948.0,649.0" fill="none" stroke="#999" stroke-width="2.20" stroke-linejoin="miter" stroke-miterlimit="3" stroke-linecap="butt"/>
<polyline points="914.7,637.3 904.7,648.9 879.7,695.3" fill="none" stroke="#999" stroke-width="2.20" stroke-linejoin="miter" stroke-miterlimit="3" stroke-linecap="butt"/>
<polyline points="925.5,584.8 935.1,579.6 946.7,557.9" fill="none" stroke="#999" stroke-width="2.20" stroke-linejoin="miter" stroke-miterlimit="3" stroke-linecap="butt"/>
<polyline points="891.5,654.0 900.5,642.5" fill="none" stroke="#999" stroke-width="2.20" stroke-linejoin="miter" stroke-miterlimit="3" stroke-linecap="butt"/>
<polyline points="917.2,576.7 917.2,613.7" fill="none" stroke="#999" stroke-width="2.20" stroke-linejoin="miter" stroke-miterlimit="3" stroke-linecap="butt"/>
<polyline points="919.7,637.3 919.7,669.3" fill="none" stroke="#999" stroke-width="2.20" stroke-linejoin="miter" stroke-miterlimit="3" stroke-linecap="butt"/>
<polyline points="945.7,582.2 945.7,641.2" fill="none" stroke="#999" stroke-width="2.20" stroke-linejoin="miter" stroke-miterlimit="3" stroke-linecap="butt"/>
<polyline points="887.7,639.8 905.7,619.4 906.2,613.1" fill="none" stroke="#999" stroke-width="2.20" stroke-linejoin="miter" stroke-miterlimit="3" stroke-linecap="butt"/>
<polyline points="964.0,571.6 976.5,564.3" fill="none" stroke="#999" stroke-width="2.20" stroke-linejoin="miter" stroke-miterlimit="3" stroke-linecap="butt"/>
<polyline points="1014.5,542.3 1001.0,550.1" fill="none" stroke="#999" stroke-width="2.20" stroke-linejoin="miter" stroke-miterlimit="3" stroke-linecap="butt"/>
<polyline points="964.0,599.6 975.5,592.9" fill="none" stroke="#999" stroke-width="2.20" stroke-linejoin="miter" stroke-miterlimit="3" stroke-linecap="butt"/>
<polyline points="993.5,582.5 1001.0,578.1" fill="none" stroke="#999" stroke-width="2.20" stroke-linejoin="miter" stroke-miterlimit="3" stroke-linecap="butt"/>
<polyline points="964.0,621.6 1001.0,600.1" fill="none" stroke="#999" stroke-width="2.20" stroke-linejoin="miter" stroke-miterlimit="3" stroke-linecap="butt"/>
<polyline points="968.0,639.3 991.0,625.9" fill="none" stroke="#999" stroke-width="2.20" stroke-linejoin="miter" stroke-miterlimit="3" stroke-linecap="butt"/>
<ellipse cx="984.5" cy="587.6980000000001" rx="7.8" ry="10.3" transform="rotate(30 984.5 587.6980000000001)" fill="none" stroke="#999" stroke-width="2.42"/>
<polyline points="988.5,577.7 1020.5,513.7" fill="none" stroke="#999" stroke-width="2.20" stroke-linejoin="miter" stroke-miterlimit="3" stroke-linecap="butt"/>
<polyline points="978.1,581.7 947.5,556.7" fill="none" stroke="#999" stroke-width="2.20" stroke-linejoin="miter" stroke-miterlimit="3" stroke-linecap="butt"/>
<polyline points="993.5,592.1 1012.8,611.4" fill="none" stroke="#999" stroke-width="2.20" stroke-linejoin="miter" stroke-miterlimit="3" stroke-linecap="butt"/>
<polyline points="979.5,599.7 969.5,611.3 944.5,657.7" fill="none" stroke="#999" stroke-width="2.20" stroke-linejoin="miter" stroke-miterlimit="3" stroke-linecap="butt"/>
<polyline points="990.3,547.2 999.9,542.0 1011.5,520.3" fill="none" stroke="#999" stroke-width="2.20" stroke-linejoin="miter" stroke-miterlimit="3" stroke-linecap="butt"/>
<polyline points="956.3,616.4 965.3,604.9" fill="none" stroke="#999" stroke-width="2.20" stroke-linejoin="miter" stroke-miterlimit="3" stroke-linecap="butt"/>
<polyline points="982.0,539.1 982.0,576.1" fill="none" stroke="#999" stroke-width="2.20" stroke-linejoin="miter" stroke-miterlimit="3" stroke-linecap="butt"/>
<polyline points="984.5,599.7 984.5,631.7" fill="none" stroke="#999" stroke-width="2.20" stroke-linejoin="miter" stroke-miterlimit="3" stroke-linecap="butt"/>
<polyline points="1010.5,544.6 1010.5,603.6" fill="none" stroke="#999" stroke-width="2.20" stroke-linejoin="miter" stroke-miterlimit="3" stroke-linecap="butt"/>
<polyline points="952.5,602.3 970.5,581.8 971.0,575.5" fill="none" stroke="#999" stroke-width="2.20" stroke-linejoin="miter" stroke-miterlimit="3" stroke-linecap="butt"/>
<polyline points="1009.0,545.5 1035.3,530.2" fill="none" stroke="#999" stroke-width="2.20" stroke-linejoin="miter" stroke-miterlimit="3" stroke-linecap="butt"/>
<polyline points="1073.3,508.2 1079.0,504.9" fill="none" stroke="#999" stroke-width="2.20" stroke-linejoin="miter" stroke-miterlimit="3" stroke-linecap="butt"/>
<polyline points="1009.0,573.5 1034.3,558.8" fill="none" stroke="#999" stroke-width="2.20" stroke-linejoin="miter" stroke-miterlimit="3" stroke-linecap="butt"/>
<polyline points="1052.3,548.4 1079.0,532.9" fill="none" stroke="#999" stroke-width="2.20" stroke-linejoin="miter" stroke-miterlimit="3" stroke-linecap="butt"/>
<polyline points="1009.0,595.5 1079.0,554.9" fill="none" stroke="#999" stroke-width="2.20" stroke-linejoin="miter" stroke-miterlimit="3" stroke-linecap="butt"/>
<polyline points="1013.0,613.2 1069.0,580.7" fill="none" stroke="#999" stroke-width="2.20" stroke-linejoin="miter" stroke-miterlimit="3" stroke-linecap="butt"/>
<ellipse cx="1043.3" cy="553.594" rx="7.8" ry="10.3" transform="rotate(30 1043.3 553.594)" fill="none" stroke="#999" stroke-width="2.42"/>
<polyline points="1047.3,543.6 1079.3,479.6" fill="none" stroke="#999" stroke-width="2.20" stroke-linejoin="miter" stroke-miterlimit="3" stroke-linecap="butt"/>
<polyline points="1036.9,547.6 1006.3,522.6" fill="none" stroke="#999" stroke-width="2.20" stroke-linejoin="miter" stroke-miterlimit="3" stroke-linecap="butt"/>
<polyline points="1052.3,558.0 1071.6,577.3" fill="none" stroke="#999" stroke-width="2.20" stroke-linejoin="miter" stroke-miterlimit="3" stroke-linecap="butt"/>
<polyline points="1038.3,565.6 1028.3,577.2 1003.3,623.6" fill="none" stroke="#999" stroke-width="2.20" stroke-linejoin="miter" stroke-miterlimit="3" stroke-linecap="butt"/>
<polyline points="1049.1,513.1 1058.7,507.9 1070.3,486.2" fill="none" stroke="#999" stroke-width="2.20" stroke-linejoin="miter" stroke-miterlimit="3" stroke-linecap="butt"/>
<polyline points="1015.1,582.3 1024.1,570.8" fill="none" stroke="#999" stroke-width="2.20" stroke-linejoin="miter" stroke-miterlimit="3" stroke-linecap="butt"/>
<polyline points="1040.8,505.0 1040.8,542.0" fill="none" stroke="#999" stroke-width="2.20" stroke-linejoin="miter" stroke-miterlimit="3" stroke-linecap="butt"/>
<polyline points="1043.3,565.6 1043.3,597.6" fill="none" stroke="#999" stroke-width="2.20" stroke-linejoin="miter" stroke-miterlimit="3" stroke-linecap="butt"/>
<polyline points="1069.3,510.5 1069.3,569.5" fill="none" stroke="#999" stroke-width="2.20" stroke-linejoin="miter" stroke-miterlimit="3" stroke-linecap="butt"/>
<polyline points="1011.3,568.2 1029.3,547.7 1029.8,541.4" fill="none" stroke="#999" stroke-width="2.20" stroke-linejoin="miter" stroke-miterlimit="3" stroke-linecap="butt"/>
<polyline points="1087.0,500.2 1113.8,484.7" fill="none" stroke="#999" stroke-width="2.20" stroke-linejoin="miter" stroke-miterlimit="3" stroke-linecap="butt"/>
<polyline points="1151.8,462.7 1158.0,459.1" fill="none" stroke="#999" stroke-width="2.20" stroke-linejoin="miter" stroke-miterlimit="3" stroke-linecap="butt"/>
<polyline points="1087.0,528.2 1112.8,513.3" fill="none" stroke="#999" stroke-width="2.20" stroke-linejoin="miter" stroke-miterlimit="3" stroke-linecap="butt"/>
<polyline points="1130.8,502.8 1158.0,487.1" fill="none" stroke="#999" stroke-width="2.20" stroke-linejoin="miter" stroke-miterlimit="3" stroke-linecap="butt"/>
<polyline points="1087.0,550.2 1158.0,509.1" fill="none" stroke="#999" stroke-width="2.20" stroke-linejoin="miter" stroke-miterlimit="3" stroke-linecap="butt"/>
<polyline points="1091.0,567.9 1148.0,534.9" fill="none" stroke="#999" stroke-width="2.20" stroke-linejoin="miter" stroke-miterlimit="3" stroke-linecap="butt"/>
<ellipse cx="1121.8" cy="508.0640000000001" rx="7.8" ry="10.3" transform="rotate(30 1121.8 508.0640000000001)" fill="none" stroke="#999" stroke-width="2.42"/>
<polyline points="1125.8,498.1 1157.8,434.1" fill="none" stroke="#999" stroke-width="2.20" stroke-linejoin="miter" stroke-miterlimit="3" stroke-linecap="butt"/>
<polyline points="1115.4,502.1 1084.8,477.1" fill="none" stroke="#999" stroke-width="2.20" stroke-linejoin="miter" stroke-miterlimit="3" stroke-linecap="butt"/>
<polyline points="1130.8,512.5 1150.1,531.8" fill="none" stroke="#999" stroke-width="2.20" stroke-linejoin="miter" stroke-miterlimit="3" stroke-linecap="butt"/>
<polyline points="1116.8,520.1 1106.8,531.7 1081.8,578.1" fill="none" stroke="#999" stroke-width="2.20" stroke-linejoin="miter" stroke-miterlimit="3" stroke-linecap="butt"/>
<polyline points="1127.6,467.6 1137.2,462.4 1148.8,440.7" fill="none" stroke="#999" stroke-width="2.20" stroke-linejoin="miter" stroke-miterlimit="3" stroke-linecap="butt"/>
<polyline points="1093.6,536.8 1102.6,525.3" fill="none" stroke="#999" stroke-width="2.20" stroke-linejoin="miter" stroke-miterlimit="3" stroke-linecap="butt"/>
<polyline points="1119.3,459.5 1119.3,496.5" fill="none" stroke="#999" stroke-width="2.20" stroke-linejoin="miter" stroke-miterlimit="3" stroke-linecap="butt"/>
<polyline points="1121.8,520.1 1121.8,552.1" fill="none" stroke="#999" stroke-width="2.20" stroke-linejoin="miter" stroke-miterlimit="3" stroke-linecap="butt"/>
<polyline points="1147.8,465.0 1147.8,524.0" fill="none" stroke="#999" stroke-width="2.20" stroke-linejoin="miter" stroke-miterlimit="3" stroke-linecap="butt"/>
<polyline points="1089.8,522.6 1107.8,502.2 1108.3,495.9" fill="none" stroke="#999" stroke-width="2.20" stroke-linejoin="miter" stroke-miterlimit="3" stroke-linecap="butt"/>
<polyline points="786.0,692.8 786.0,746.8" fill="none" stroke="#999" stroke-width="2.20" stroke-linejoin="miter" stroke-miterlimit="3" stroke-linecap="butt"/>
<polyline points="779.0,748.9 787.0,742.2" fill="none" stroke="#999" stroke-width="2.20" stroke-linejoin="miter" stroke-miterlimit="3" stroke-linecap="butt"/>
<polyline points="878.0,595.5 878.0,693.5" fill="none" stroke="#999" stroke-width="2.20" stroke-linejoin="miter" stroke-miterlimit="3" stroke-linecap="butt"/>
<polyline points="871.0,695.5 879.0,688.9" fill="none" stroke="#999" stroke-width="2.20" stroke-linejoin="miter" stroke-miterlimit="3" stroke-linecap="butt"/>
<polyline points="958.0,549.1 958.0,647.1" fill="none" stroke="#999" stroke-width="2.20" stroke-linejoin="miter" stroke-miterlimit="3" stroke-linecap="butt"/>
<polyline points="951.0,649.1 959.0,642.5" fill="none" stroke="#999" stroke-width="2.20" stroke-linejoin="miter" stroke-miterlimit="3" stroke-linecap="butt"/>
<polyline points="1003.0,523.0 1003.0,621.0" fill="none" stroke="#999" stroke-width="2.20" stroke-linejoin="miter" stroke-miterlimit="3" stroke-linecap="butt"/>
<polyline points="996.0,623.0 1004.0,616.4" fill="none" stroke="#999" stroke-width="2.20" stroke-linejoin="miter" stroke-miterlimit="3" stroke-linecap="butt"/>
<polyline points="1081.0,477.7 1081.0,575.7" fill="none" stroke="#999" stroke-width="2.20" stroke-linejoin="miter" stroke-miterlimit="3" stroke-linecap="butt"/>
<polyline points="1074.0,577.8 1082.0,571.1" fill="none" stroke="#999" stroke-width="2.20" stroke-linejoin="miter" stroke-miterlimit="3" stroke-linecap="butt"/>
<polyline points="1160.0,431.9 1160.0,529.9" fill="none" stroke="#999" stroke-width="2.20" stroke-linejoin="miter" stroke-miterlimit="3" stroke-linecap="butt"/>
<polyline points="1153.0,532.0 1161.0,525.3" fill="none" stroke="#999" stroke-width="2.20" stroke-linejoin="miter" stroke-miterlimit="3" stroke-linecap="butt"/>
<polyline points="1188.0,394.0 1164.0,460.0" fill="none" stroke="#999" stroke-width="2.20" stroke-linejoin="miter" stroke-miterlimit="3" stroke-linecap="butt"/>
<polyline points="1192.5,396.0 1176.5,432.0" fill="none" stroke="#999" stroke-width="2.20" stroke-linejoin="miter" stroke-miterlimit="3" stroke-linecap="butt"/>
<polyline points="1185.0,444.0 1161.5,476.0" fill="none" stroke="#999" stroke-width="2.20" stroke-linejoin="miter" stroke-miterlimit="3" stroke-linecap="butt"/>
<polyline points="1166.5,480.0 1174.0,477.0" fill="none" stroke="#999" stroke-width="2.20" stroke-linejoin="miter" stroke-miterlimit="3" stroke-linecap="butt"/>
<ellipse cx="803.2" cy="683.7" rx="4.8" ry="5.4" transform="rotate(15 803.2 683.7)" fill="none" stroke="#999" stroke-width="2.20"/>
<path d="M823.4,619.5 V635.5 Q827.7,639.5 832.0,635.5 V619.5" fill="none" stroke="#999" stroke-width="2.20" stroke-linejoin="round" stroke-linecap="butt"/>
<ellipse cx="827.7" cy="619.5" rx="4.3" ry="2.4" transform="rotate(0 827.7 619.5)" fill="none" stroke="#999" stroke-width="2.20"/>
<path d="M903.7,572.3 V588.3 Q908.0,592.3 912.3,588.3 V572.3" fill="none" stroke="#999" stroke-width="2.20" stroke-linejoin="round" stroke-linecap="butt"/>
<ellipse cx="908" cy="572.3" rx="4.3" ry="2.4" transform="rotate(0 908 572.3)" fill="none" stroke="#999" stroke-width="2.20"/>
<path d="M978.4,528.2 V544.2 Q982.7,548.2 987.0,544.2 V528.2" fill="none" stroke="#999" stroke-width="2.20" stroke-linejoin="round" stroke-linecap="butt"/>
<ellipse cx="982.7" cy="528.2" rx="4.3" ry="2.4" transform="rotate(0 982.7 528.2)" fill="none" stroke="#999" stroke-width="2.20"/>
<path d="M1054.1,486.4 V502.4 Q1058.4,506.4 1062.7,502.4 V486.4" fill="none" stroke="#999" stroke-width="2.20" stroke-linejoin="round" stroke-linecap="butt"/>
<ellipse cx="1058.4" cy="486.4" rx="4.3" ry="2.4" transform="rotate(0 1058.4 486.4)" fill="none" stroke="#999" stroke-width="2.20"/>
<path d="M1135.1,437.0 V453.0 Q1139.4,457.0 1143.7,453.0 V437.0" fill="none" stroke="#999" stroke-width="2.20" stroke-linejoin="round" stroke-linecap="butt"/>
<ellipse cx="1139.4" cy="437" rx="4.3" ry="2.4" transform="rotate(0 1139.4 437)" fill="none" stroke="#999" stroke-width="2.20"/>
<path d="M156.1,797.5 C162,806 164.5,812 161,818.5 C158,823 152,827 146.4,831.2 C142,833 138,833.6 134.4,833.6 L116,834.4 C110,835 106,837 103,840 C96,846 92,853 88.5,859.5" fill="none" stroke="#999" stroke-width="8.50" stroke-linejoin="round" stroke-linecap="butt"/>
<path d="M156.1,797.5 C162,806 164.5,812 161,818.5 C158,823 152,827 146.4,831.2 C142,833 138,833.6 134.4,833.6 L116,834.4 C110,835 106,837 103,840 C96,846 92,853 88.5,859.5" fill="none" stroke="#fff" stroke-width="2.60" stroke-linejoin="round" stroke-linecap="butt"/>
<path d="M86,858 C86,866 88,871 96,876.5 L109,886 C113,890 114,893 113.4,895 L109.6,904.5 L108,910.9 L112.8,914.1 L120.8,918.9 L127.3,926.1 L192.9,955.7 L199.3,954.9 L223.3,939.7 L231.3,929.3 L244.1,922.1 L260,913 L280,900 L315,886.5 L335,877.5 L357.5,875 L367.5,870 L385,832.5 C390,822 393,816 402,810.5 C410,806 416,805.5 430,804.5 L446,803.5" fill="none" stroke="#999" stroke-width="12.50" stroke-linejoin="round" stroke-linecap="butt"/>
<path d="M86,858 C86,866 88,871 96,876.5 L109,886 C113,890 114,893 113.4,895 L109.6,904.5 L108,910.9 L112.8,914.1 L120.8,918.9 L127.3,926.1 L192.9,955.7 L199.3,954.9 L223.3,939.7 L231.3,929.3 L244.1,922.1 L260,913 L280,900 L315,886.5 L335,877.5 L357.5,875 L367.5,870 L385,832.5 C390,822 393,816 402,810.5 C410,806 416,805.5 430,804.5 L446,803.5" fill="none" stroke="#fff" stroke-width="6.50" stroke-linejoin="round" stroke-linecap="butt"/>
<path d="M128,926 L193,955.7 L199.3,954.9 L223.3,939.7 L231.3,929.3 L244.1,922.1 L260,913 L280,900 L315,886.5 L335,877.5 L357.5,875 L367.5,870 L385,832.5 C390,822 393,816 402,810.5 C410,806 416,805.5 430,804.5 L446,803.5" fill="none" stroke="#999" stroke-width="1.60" stroke-linejoin="round" stroke-linecap="butt"/>
<path d="M88,862 C90,869 94,873 101,878.5 L108,884" fill="none" stroke="#999" stroke-width="1.60" stroke-linejoin="round" stroke-linecap="butt"/>
<polygon points="148.5,787.0 155.7,783.5 162.5,789.0 161.5,798.0 154.0,801.5 146.5,795.5" fill="#fff" stroke="#999" stroke-width="3.58" stroke-linejoin="miter" stroke-miterlimit="3"/>
<polyline points="151.0,789.0 157.0,791.5 160.0,789.0" fill="none" stroke="#999" stroke-width="2.42" stroke-linejoin="miter" stroke-miterlimit="3" stroke-linecap="butt"/>
<polyline points="152.5,789.5 152.5,797.0" fill="none" stroke="#999" stroke-width="2.42" stroke-linejoin="miter" stroke-miterlimit="3" stroke-linecap="butt"/>
<polygon points="75.2,841.3 85.6,842.9 84.0,857.3 80.0,862.0 74.0,862.0" fill="#fff" stroke="#999" stroke-width="2.86" stroke-linejoin="miter" stroke-miterlimit="3"/>
<polygon points="89.6,882.9 93.6,906.9 102.4,901.3 96.0,889.0" fill="#fff" stroke="#999" stroke-width="2.86" stroke-linejoin="miter" stroke-miterlimit="3"/>
<polygon points="281.0,887.0 302.0,882.0 304.0,889.0 283.0,894.0" fill="#fff" stroke="#999" stroke-width="2.64" stroke-linejoin="miter" stroke-miterlimit="3"/>
<polyline points="438.0,798.3 463.6,797.5 474.1,791.0 492.0,789.0 511.5,795.9 532.6,792.3 531.8,784.5 538.3,782.0 544.8,785.3 545.6,799.1 560.2,796.7 560.2,791.8 570.0,790.2 578.9,786.5 587.9,784.5 587.9,791.0 607.4,777.2 625.2,764.2 643.9,757.7 641.5,751.2 600.1,734.1 600.1,713.0 604.9,711.0 609.8,713.0 609.8,730.9 643.9,746.3 649.6,744.7 661.0,746.3 669.1,750.4 674.8,747.9 687.8,756.9 688.6,762.6 684.6,768.2 668.3,757.7 666.7,754.4 652.1,751.2 652.9,757.7 649.6,762.6 589.5,796.7 574.9,800.7 513.1,812.1 505.0,825.1 498.5,827.6 479.0,824.3 474.1,821.1 460.3,807.2 438.0,808.1" fill="none" stroke="#999" stroke-width="3.36" stroke-linejoin="miter" stroke-miterlimit="3" stroke-linecap="butt"/>
<polyline points="438.0,803.0 466.8,801.6 472.5,804.0" fill="none" stroke="#999" stroke-width="1.60" stroke-linejoin="miter" stroke-miterlimit="3" stroke-linecap="butt"/>
<polyline points="512.3,804.8 589.5,793.4 651.2,756.1" fill="none" stroke="#999" stroke-width="1.60" stroke-linejoin="miter" stroke-miterlimit="3" stroke-linecap="butt"/>
<polygon points="472.5,804.0 477.4,798.3 496.1,795.9 512.3,804.0 501.7,819.4 481.4,817.0" fill="none" stroke="#999" stroke-width="2.20" stroke-linejoin="miter" stroke-miterlimit="3"/>
<polyline points="536.0,787.5 541.0,789.5" fill="none" stroke="#999" stroke-width="1.60" stroke-linejoin="miter" stroke-miterlimit="3" stroke-linecap="butt"/>
<polyline points="562.0,795.0 576.0,791.5" fill="none" stroke="#999" stroke-width="1.60" stroke-linejoin="miter" stroke-miterlimit="3" stroke-linecap="butt"/>
<polyline points="670.0,755.0 682.0,762.0" fill="none" stroke="#999" stroke-width="1.60" stroke-linejoin="miter" stroke-miterlimit="3" stroke-linecap="butt"/>
<path d="M394.2,904 L373,921 C369,925 369,928 377.2,929.5 L390,928.4 C395,930 395,935 387.9,943.3 C384,945 382,946 381.5,946.5 L356,952.9 C346,956 340,960 336,966 C333,972 332.6,980 331.6,993.2 C331,1000 333,1004 335.8,1008.1 L347.5,1029.4 L368.7,1044.2 C378,1052 381,1058 381.5,1061.2 L385.7,1080.4 C388,1086 391,1089 394.2,1089.9 L413.4,1094.2 L424,1092.1 L483.5,1060.2 L495.2,1057 L485.6,1050.6 L484.6,1040 L510.1,1028.3 L521.7,1037.9" fill="none" stroke="#999" stroke-width="8.50" stroke-linejoin="round" stroke-linecap="butt"/>
<path d="M394.2,904 L373,921 C369,925 369,928 377.2,929.5 L390,928.4 C395,930 395,935 387.9,943.3 C384,945 382,946 381.5,946.5 L356,952.9 C346,956 340,960 336,966 C333,972 332.6,980 331.6,993.2 C331,1000 333,1004 335.8,1008.1 L347.5,1029.4 L368.7,1044.2 C378,1052 381,1058 381.5,1061.2 L385.7,1080.4 C388,1086 391,1089 394.2,1089.9 L413.4,1094.2 L424,1092.1 L483.5,1060.2 L495.2,1057 L485.6,1050.6 L484.6,1040 L510.1,1028.3 L521.7,1037.9" fill="none" stroke="#fff" stroke-width="3.50" stroke-linejoin="round" stroke-linecap="butt"/>
<path d="M334,975 C333,985 333,998 336,1006 L347.5,1029.4 L368.7,1044.2 C378,1052 381,1058 381.5,1061.2 L385.7,1080.4 C388,1086 391,1089 394.2,1089.9 L413.4,1094.2 L424,1092.1 L483.5,1060.2" fill="none" stroke="#999" stroke-width="1.00" stroke-linejoin="round" stroke-linecap="butt"/>
<polygon points="385.7,889.1 401.7,885.9 415.5,894.4 415.5,905.1 408.1,908.2 408.1,914.6 401.7,916.7 400.6,910.4 397.4,904.0 385.7,897.6" fill="#fff" stroke="#999" stroke-width="2.86" stroke-linejoin="miter" stroke-miterlimit="3"/>
<polyline points="385.7,889.1 400.6,897.0 415.5,894.4" fill="none" stroke="#999" stroke-width="1.80" stroke-linejoin="miter" stroke-miterlimit="3" stroke-linecap="butt"/>
<polyline points="400.6,897.0 400.6,910.4" fill="none" stroke="#999" stroke-width="1.80" stroke-linejoin="miter" stroke-miterlimit="3" stroke-linecap="butt"/>
<polygon points="345.4,1038.9 356.0,1033.6 388.9,1052.7 383.6,1059.1" fill="#fff" stroke="#999" stroke-width="2.86" stroke-linejoin="miter" stroke-miterlimit="3"/>
<polygon points="349.6,1057.0 361.3,1049.6 377.2,1062.3 371.9,1074.0" fill="#fff" stroke="#999" stroke-width="2.86" stroke-linejoin="miter" stroke-miterlimit="3"/>
<path d="M345,1039 L356,1034 L389,1053 L384,1059 Z" fill="none" stroke="#999" stroke-width="0.01" stroke-linejoin="round" stroke-linecap="butt"/>
<path d="M520,1036 L536,1045 Q542,1050 537,1052 L532,1052 L517,1043" fill="#fff" stroke="#999" stroke-width="2.64" stroke-linejoin="round" stroke-linecap="butt"/>
<ellipse cx="535.5" cy="1048.5" rx="3" ry="2.2" transform="rotate(-30 535.5 1048.5)" fill="none" stroke="#999" stroke-width="1.60"/>
</svg>
<div class="banner"></div>
<div class="t" id="l1" style="left:351px;top:1137px">Part or sub-assembly is #3 in diagram</div>
<div class="t" id="l2" style="left:277px;top:1187px">Diagram may not be specific to your vehicle</div>
</body></html>
